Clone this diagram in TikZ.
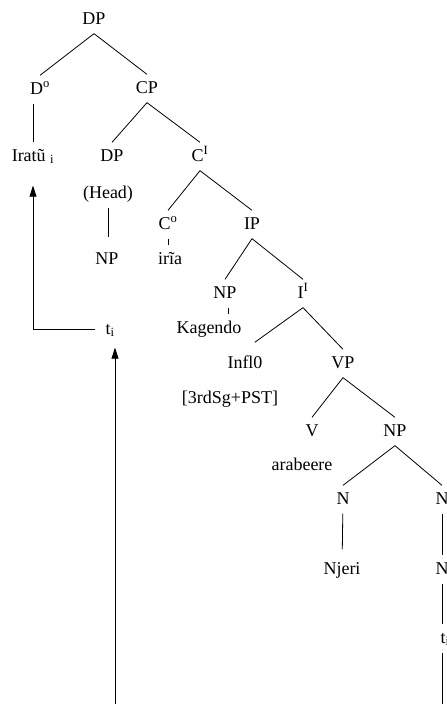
\documentclass[tikz,border=0pt]{standalone}
\usepackage{fontspec}
\setmainfont{Liberation Serif}
\usetikzlibrary{arrows.meta}
\begin{document}
\begin{tikzpicture}[x=1pt,y=1pt,line width=0.8pt,
    lbl/.style={inner xsep=2pt,inner ysep=5.25pt,text height=13pt,text depth=4pt,font=\fontsize{18}{20}\selectfont},
    mv/.style={-{Triangle[length=11pt,width=7pt]}}]
    \useasboundingbox (0,0) rectangle (447,-704);
    \node[lbl] (dp) at (94,-19.5) {DP};
    \node[lbl] (d0) at (40,-89.5) {D\textsuperscript{o}};
    \node[lbl] (cp) at (147,-88.5) {CP};
    \node[lbl] (iratu) at (33,-156.5) {Iratũ \textsubscript{i}};
    \node[lbl] (dp2) at (112,-156.5) {DP};
    \node[lbl] (cbar) at (200,-156.5) {C\textsuperscript{I}};
    \node[lbl] (head) at (108,-193.5) {(Head)};
    \node[lbl] (np1) at (107,-259.5) {NP};
    \node[lbl] (c0) at (168,-224.5) {C\textsuperscript{o}};
    \node[lbl] (iria) at (170,-259.5) {irĩa};
    \node[lbl] (ip) at (252,-224.5) {IP};
    \node[lbl] (np2) at (225,-293.5) {NP};
    \node[lbl] (ibar) at (303,-293.5) {I\textsuperscript{I}};
    \node[lbl] (kagendo) at (209,-328.5) {Kagendo};
    \node[lbl] (ti) at (110,-329.5) {t\textsubscript{i}};
    \node[lbl] (infl) at (245,-363.5) {Infl0};
    \node[lbl] (vp) at (343,-363.5) {VP};
    \node[lbl] (feat) at (230,-398.5) {[3rdSg+PST]};
    \node[lbl] (v) at (312,-431.5) {V};
    \node[lbl] (np3) at (395,-431.5) {NP};
    \node[lbl] (verb) at (302,-465.5) {arabeere};
    \node[lbl] (n1) at (343,-499.5) {N};
    \node[lbl] (n2) at (442,-499.5) {N};
    \node[lbl] (njeri) at (342,-569.5) {Njeri};
    \node[lbl] (n3) at (442,-569.5) {N};
    \node[lbl] (t2) at (445,-638.5) {t\textsubscript{i}};
    \coordinate (endl) at (115,-710);
    \coordinate (endr) at (442,-710);
    \draw (dp.south) -- (d0.north);
    \draw (dp.south) -- (cp.north);
    \draw (d0.south -| iratu) -- (iratu);
    \draw (cp.south) -- (dp2.north);
    \draw (cp.south) -- (cbar.north);
    \draw[shorten >=8pt] (head) -- (head |- np1.north);
    \draw (cbar.south) -- (c0.north);
    \draw (cbar.south) -- (ip.north);
    \draw (c0.south) -- (c0.south |- iria.north);
    \draw (ip.south) -- (np2.north);
    \draw (ip.south) -- (ibar.north);
    \draw ([xshift=3pt]np2.south) -- ([xshift=3pt]np2.south |- kagendo.north);
    \draw[shorten >=12pt] (ibar.south) -- (infl.north);
    \draw (ibar.south) -- (vp.north);
    \draw (vp.south) -- (v.north);
    \draw (vp.south) -- (np3.north);
    \draw (np3.south) -- (n1.north);
    \draw (np3.south) -- (n2.north);
    \draw[shorten >=6pt] (n1) -- (njeri);
    \draw (n2) -- (n3);
    \draw (n3) -- (n3 |- t2.north);
    \draw (n3 |- t2.south) -- (endr);
    \draw[mv,shorten >=4pt] (endl) -- (endl |- ti.south);
    \draw[mv,shorten <=8pt,shorten >=15pt] (ti.west) -| (iratu.south);
\end{tikzpicture}
\end{document}
